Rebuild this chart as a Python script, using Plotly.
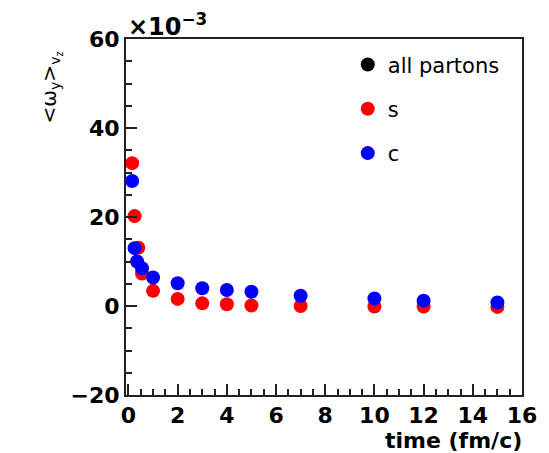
import plotly.graph_objects as go

# data (values in units of 1e-3)
t_s = [0.15, 0.25, 0.4, 0.55, 1, 2, 3, 4, 5, 7, 10, 12, 15]
w_s = [32.1, 20.2, 13.1, 7.3, 3.4, 1.6, 0.6, 0.4, 0.1, 0.0, -0.1, -0.1, -0.2]
t_c = [0.15, 0.25, 0.35, 0.55, 1, 2, 3, 4, 5, 7, 10, 12, 15]
w_c = [28.1, 13.0, 10.0, 8.5, 6.4, 5.1, 4.0, 3.6, 3.2, 2.3, 1.7, 1.2, 0.8]
t_all = [None]
w_all = [None]

FONT = "DejaVu Sans, sans-serif"

fig = go.Figure()
fig.add_trace(go.Scatter(x=t_all, y=w_all, mode="markers", name="all partons",
                         marker=dict(color="black", size=14), legendgroup="a"))
fig.add_trace(go.Scatter(x=t_s, y=w_s, mode="markers", name="s",
                         marker=dict(color="#ff0000", size=14), legendgroup="b"))
fig.add_trace(go.Scatter(x=t_c, y=w_c, mode="markers", name="c",
                         marker=dict(color="#0000ff", size=14), legendgroup="c"))

axis_common = dict(showgrid=False, zeroline=False, showline=True, linecolor="#222",
                   linewidth=2, mirror=True, ticks="inside", tickcolor="#222",
                   tickwidth=2, ticklen=11, ticklabeloverflow="allow",
                   tickfont=dict(family=FONT, size=22, color="black", weight="bold"))

fig.update_xaxes(range=[-0.1, 16], dtick=2, tick0=0, ticklabelstandoff=0,
                 minor=dict(dtick=0.5, ticks="inside", ticklen=6, tickwidth=1.5, tickcolor="#222"),
                 **axis_common)
fig.update_yaxes(range=[-20, 60], dtick=20, tick0=0,
                 minor=dict(dtick=5, ticks="inside", ticklen=6, tickwidth=1.5, tickcolor="#222"),
                 **axis_common)

fig.add_annotation(text="time (fm/c)", xref="paper", yref="paper", x=1.005, y=-0.088,
                   xanchor="right", yanchor="top", showarrow=False,
                   font=dict(family=FONT, size=22, color="black", weight="bold"))
fig.add_annotation(text="×10<sup>−3</sup>", xref="paper", yref="paper", x=0.0, y=0.99,
                   xanchor="left", yanchor="bottom", showarrow=False,
                   font=dict(family=FONT, size=24, color="black", weight="bold"))
fig.add_annotation(text="&lt;ω<sub>y</sub>&gt;<sub>v<sub>z</sub></sub>", xref="paper", yref="paper",
                   x=-0.19, y=0.97, xanchor="center", yanchor="top", textangle=-90,
                   showarrow=False, font=dict(family=FONT, size=20, color="black"))

fig.update_layout(
    width=549, height=453,
    margin=dict(l=126, r=14, t=39, b=58),
    plot_bgcolor="white", paper_bgcolor="white",
    showlegend=True,
    legend=dict(x=0.56, y=0.985, xanchor="left", yanchor="top", bgcolor="rgba(0,0,0,0)",
                font=dict(family=FONT, size=21, color="black"), tracegroupgap=14),
)

fig.write_html("out.html")
